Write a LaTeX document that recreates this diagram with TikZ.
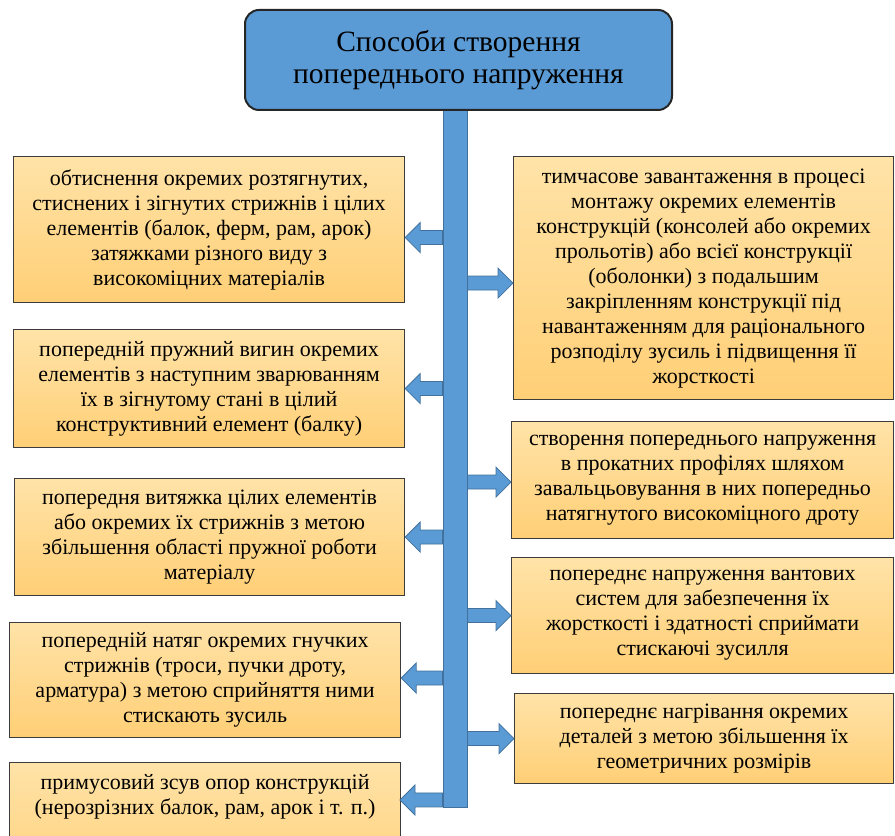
\documentclass[tikz,border=0pt]{standalone}
\usepackage{fontspec}
\setmainfont{Liberation Serif}
\newfontfamily\boxserif{Liberation Serif}
\usetikzlibrary{calc}
\definecolor{bblue}{HTML}{5B9BD5}
\definecolor{bedge}{HTML}{41719C}
\definecolor{otop}{HTML}{FFE3A8}
\definecolor{obot}{HTML}{FFCF76}
\definecolor{boxedge}{HTML}{3C3C3C}
\newcommand\arrowL[2][0]{%
  \filldraw[blockarr] let \p1=(bar.west), \p2=(#2.east) in
    (\x1,\y2+#1pt+7pt) -- (\x2+15pt,\y2+#1pt+7pt) -- (\x2+15pt,\y2+#1pt+15pt) --
    (\x2,\y2+#1pt) -- (\x2+15pt,\y2+#1pt-15pt) -- (\x2+15pt,\y2+#1pt-7pt) --
    (\x1,\y2+#1pt-7pt) -- cycle;}
\newcommand\arrowR[2][0]{%
  \filldraw[blockarr] let \p1=(bar.east), \p2=(#2.west) in
    (\x1,\y2+#1pt+7pt) -- (\x2-15pt,\y2+#1pt+7pt) -- (\x2-15pt,\y2+#1pt+15pt) --
    (\x2,\y2+#1pt) -- (\x2-15pt,\y2+#1pt-15pt) -- (\x2-15pt,\y2+#1pt-7pt) --
    (\x1,\y2+#1pt-7pt) -- cycle;}
\begin{document}
\begin{tikzpicture}[x=1pt,y=1pt,
  txtbox/.style={draw=boxedge, line width=1.2pt, top color=otop, bottom color=obot,
    align=center, inner sep=0pt, anchor=north west,
    font=\boxserif\fontsize{22}{25}\selectfont, text=black},
  titlebox/.style={draw=black!85, line width=2pt, fill=bblue, rounded corners=14pt,
    align=center, inner sep=0pt, font=\boxserif\fontsize{29.5}{32}\selectfont},
  barbox/.style={draw=bedge, line width=0.8pt, fill=bblue, inner sep=0pt},
  blockarr/.style={fill=bblue, draw=bedge, line width=0.8pt, line join=miter}]
\useasboundingbox (0,0) rectangle (895,836);
% title and bar
\node[barbox, minimum width=24, minimum height=698, anchor=north] (bar) at (455,727) {};
\node[titlebox, minimum width=427, minimum height=100] (title) at (458.5,776)
  {Способи створення\\попереднього напруження};
% left boxes
\node[txtbox, minimum width=391, minimum height=146] (L1) at (13,680)
  {обтиснення окремих розтягнутих,\\стиснених і зігнутих стрижнів і цілих\\елементів (балок, ферм, рам, арок)\\затяжками різного виду з\\високоміцних матеріалів};
\node[txtbox, minimum width=391, minimum height=118] (L2) at (13,507)
  {попередній пружний вигин окремих\\елементів з наступним зварюванням\\їх в зігнутому стані в цілий\\конструктивний елемент (балку)};
\node[txtbox, minimum width=390, minimum height=117] (L3) at (14,358)
  {попередня витяжка цілих елементів\\або окремих їх стрижнів з метою\\збільшення області пружної роботи\\матеріалу};
\node[txtbox, minimum width=391, minimum height=115] (L4) at (9,214)
  {попередній натяг окремих гнучких\\стрижнів (троси, пучки дроту,\\арматура) з метою сприйняття ними\\стискають зусиль};
\node[txtbox, minimum width=391, inner ysep=12pt, text depth=70pt] (L5) at (9,74)
  {примусовий зсув опор конструкцій\\(нерозрізних балок, рам, арок і т. п.)};
% right boxes
\node[txtbox, minimum width=380, minimum height=243] (R1) at (513,680)
  {тимчасове завантаження в процесі\\монтажу окремих елементів\\конструкцій (консолей або окремих\\прольотів) або всієї конструкції\\(оболонки) з подальшим\\закріпленням конструкції під\\навантаженням для раціонального\\розподілу зусиль і підвищення її\\жорсткості};
\node[txtbox, minimum width=382, minimum height=117] (R2) at (511,415)
  {створення попереднього напруження\\в прокатних профілях шляхом\\завальцьовування в них попередньо\\натягнутого високоміцного дроту};
\node[txtbox, minimum width=382, minimum height=116] (R3) at (511,279)
  {попереднє напруження вантових\\систем для забезпечення їх\\жорсткості і здатності сприймати\\стискаючі зусилля};
\node[txtbox, minimum width=379, minimum height=90] (R4) at (514,143)
  {попереднє нагрівання окремих\\деталей з метою збільшення їх\\геометричних розмірів};
% arrows
\arrowL[-8]{L1}
\arrowL{L2}
\arrowL{L3}
\arrowL[2]{L4}
\coordinate (L5a) at (400,36);
\filldraw[blockarr] let \p1=(bar.west), \p2=(L5a) in
    (\x1,\y2+7pt) -- (\x2+15pt,\y2+7pt) -- (\x2+15pt,\y2+15pt) --
    (\x2,\y2) -- (\x2+15pt,\y2-15pt) -- (\x2+15pt,\y2-7pt) --
    (\x1,\y2-7pt) -- cycle;
\arrowR[-5]{R1}
\arrowR[-2]{R2}
\arrowR{R3}
\arrowR{R4}
\end{tikzpicture}
\end{document}
